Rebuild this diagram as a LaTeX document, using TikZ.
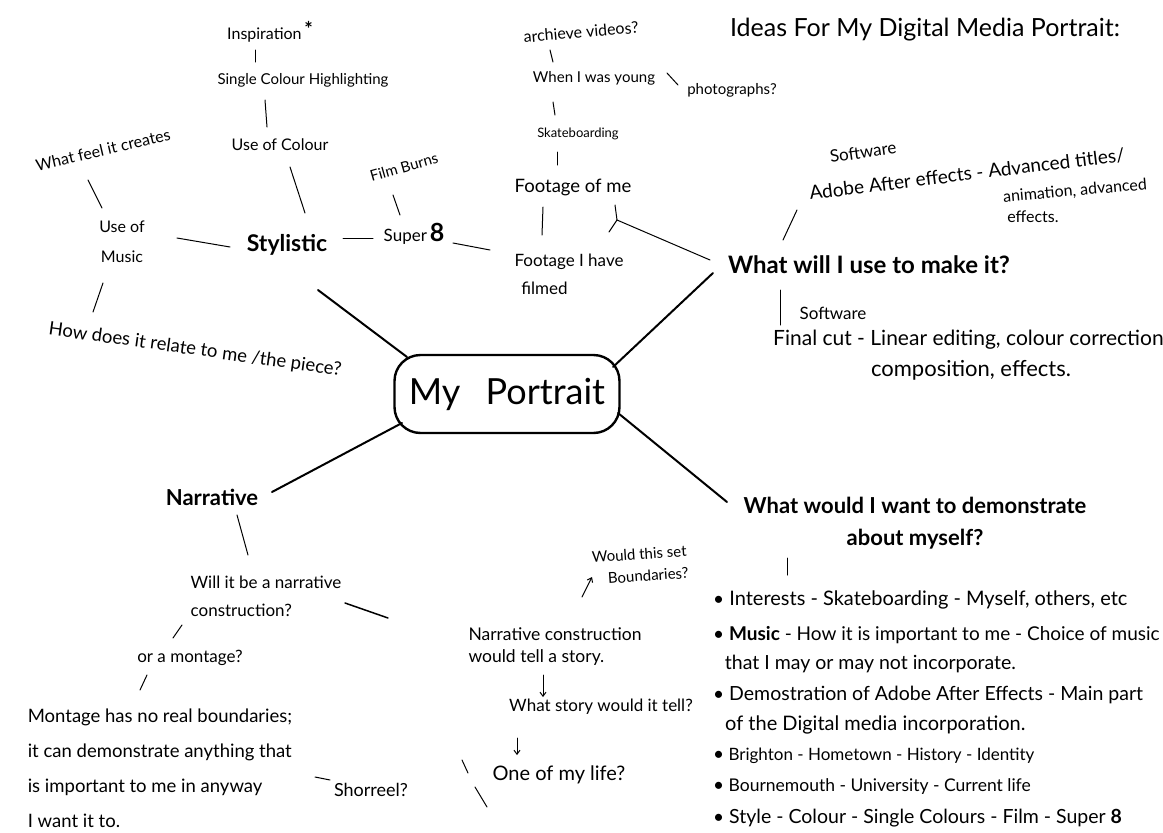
\documentclass[tikz,border=0pt]{standalone}
\usepackage{fontspec}
\setmainfont{Lato}
\usetikzlibrary{arrows.meta}
\newcommand{\dotmark}{{\fontsize{19}{20}\selectfont\textbullet}\ }

\begin{document}
\begin{tikzpicture}[
        x=1pt, y=-1pt,
        txt/.style={inner sep=1pt, font=\fontsize{15}{18}\selectfont},
        mid/.style={inner sep=1pt, font=\fontsize{17}{28}\selectfont, align=left},
        big/.style={inner sep=1pt, font=\fontsize{22}{32}\selectfont\bfseries, align=center},
        hub/.style={draw, rounded corners=26pt, line width=2.4pt, minimum width=225pt, minimum height=78pt, font=\fontsize{36}{40}\selectfont},
        twig/.style={line width=1pt, line cap=round},
        branch/.style={line width=2pt, line cap=round},
        tip/.style={twig, -{Straight Barb[length=4pt, width=6pt]}}
    ]
        \useasboundingbox (0,0) rectangle (1163,833);

        % Title and centre
        \node[inner sep=1pt, font=\fontsize{25}{29}\selectfont] (title) at (925,30) {Ideas For My Digital Media Portrait:};
        \node[hub] (me) at (507,394) {My\hspace{0.7em}Portrait};

        % Stylistic side
        \node[big, font=\fontsize{23}{28}\selectfont\bfseries] (styl) at (287,245) {Stylistic};
        \node[txt, font=\fontsize{16}{19}\selectfont] (colour) at (280,145) {Use of Colour};
        \node[txt] (single) at (303,80) {Single Colour Highlighting};
        \node[txt, font=\fontsize{16}{19}\selectfont] (inspir) at (270,32) {Inspiration\,\raisebox{3pt}{\fontsize{20}{20}\selectfont\bfseries *}};
        \node[txt, rotate=13, font=\fontsize{16}{19}\selectfont] (feel) at (103,150) {What feel it creates};
        \node[txt, align=center, font=\fontsize{16}{30}\selectfont] (music) at (122,242) {Use of\\Music};
        \node[txt, rotate=-8, font=\fontsize{18.5}{22}\selectfont] (relate) at (195,350) {How does it relate to me /the piece?};
        \node[txt, font=\fontsize{17}{20}\selectfont] (super) at (414,234) {Super\,{\fontsize{25}{25}\selectfont\bfseries 8}};
        \node[txt, rotate=16] (burns) at (404,167) {Film Burns};

        % Footage column
        \node[txt, align=left, font=\fontsize{17}{28}\selectfont] (filmed) at (569,274) {Footage I have\\\hspace{0.4em}filmed};
        \node[txt, font=\fontsize{18.5}{21}\selectfont] (footme) at (573,187) {Footage of me};
        \node[txt, font=\fontsize{13}{16}\selectfont] (skate) at (578,134) {Skateboarding};
        \node[txt] (young) at (594,78) {When I was young};
        \node[txt] (photos) at (732,90) {photographs?};
        \node[txt, rotate=5, font=\fontsize{16}{19}\selectfont] (archive) at (581,32) {archieve videos?};

        % What will I use
        \node[big, font=\fontsize{24}{28}\selectfont\bfseries] (wwu) at (869,265) {What will I use to make it?};
        \node[txt, rotate=8, font=\fontsize{17}{20}\selectfont] (soft1) at (863,152) {Software};
        \node[txt, rotate=7, font=\fontsize{19}{22}\selectfont] (adobe) at (967,174) {Adobe After effects - Advanced titles/};
        \node[txt, rotate=5, font=\fontsize{16}{19}\selectfont] (anim) at (1075,191) {animation, advanced};
        \node[txt, font=\fontsize{16}{19}\selectfont] (effects) at (1033,217) {effects.};
        \node[txt, font=\fontsize{17}{20}\selectfont] (soft2) at (833,313) {Software};
        \node[txt, anchor=west, font=\fontsize{21}{24}\selectfont] (final) at (772,340) {Final cut - Linear editing, colour correction};
        \node[txt, font=\fontsize{22}{25}\selectfont] (compo) at (971,370) {composition, effects.};

        % What would I want to demonstrate
        \node[big] (wwd) at (915,523) {What would I want to demonstrate\\about myself?};
        \foreach \y/\s/\t [count=\i] in {
            605/20/{\dotmark Interests - Skateboarding - Myself, others, etc},
            640/19/{\dotmark \textbf{Music} - How it is important to me - Choice of music},
            669/19.5/{\hspace{0.6em}that I may or may not incorporate.},
            700/19.5/{\dotmark Demostration of Adobe After Effects - Main part},
            730/20/{\hspace{0.6em}of the Digital media incorporation.},
            760/17/{\dotmark Brighton - Hometown - History - Identity},
            791/17.5/{\dotmark Bournemouth - University - Current life},
            823/19.5/{\dotmark Style - Colour - Single Colours - Film - Super \textbf{8}}}
            \node[txt, anchor=base west, font=\fontsize{\s}{20}\selectfont] (b\i) at (712,\y) {\t};

        % Narrative side
        \node[big] (narr) at (212,497) {Narrative};
        \node[mid, font=\fontsize{17}{28}\selectfont] (willit) at (266,596) {Will it be a narrative\\construction?};
        \node[mid] (montq) at (190,658) {or a montage?};
        \node[mid, font=\fontsize{18.5}{35}\selectfont] (montage) at (160,768) {Montage has no real boundaries;\\it can demonstrate anything that\\is important to me in anyway\\I want it to.};
        \node[mid, font=\fontsize{18}{21}\selectfont] (showreel) at (371,790) {Shorreel?};
        \node[mid, font=\fontsize{17.5}{22}\selectfont] (ncons) at (555,647) {Narrative construction\\would tell a story.};
        \node[txt, align=center, rotate=4, font=\fontsize{15}{22}\selectfont] (bound) at (640,565) {Would this set\\\hspace{1em}Boundaries?};
        \node[txt, font=\fontsize{17}{20}\selectfont] (story) at (601,707) {What story would it tell?};
        \node[txt, font=\fontsize{20}{23}\selectfont] (life) at (559,775) {One of my life?};

        % Main branches
        \draw[branch] ([shift={(-100,-37)}]me.center) -- ([shift={(31,45)}]styl.center);
        \draw[branch] ([shift={(106,-27)}]me.center) -- ([shift={(-156,8)}]wwu.center);
        \draw[branch] ([shift={(111,19)}]me.center) -- ([shift={(-188,-21)}]wwd.center);
        \draw[branch] ([shift={(-105,29)}]me.center) -- ([shift={(60,-5)}]narr.center);

        % Stylistic strokes
        \draw[twig] ([shift={(-15,18)}]inspir.center) -- ([shift={(-48,-18)}]single.center);
        \draw[twig] ([shift={(-38,20)}]single.center) -- ([shift={(-13,-18)}]colour.center);
        \draw[twig] ([shift={(10,22)}]colour.center) -- ([shift={(18,-32)}]styl.center);
        \draw[twig] ([shift={(-15,30)}]feel.center) -- ([shift={(-20,-34)}]music.center);
        \draw[twig] ([shift={(55,-4)}]music.center) -- ([shift={(-57,2)}]styl.center);
        \draw[twig] ([shift={(-19,41)}]music.center) -- ([shift={(-102,-38)}]relate.center);
        \draw[twig] ([shift={(56,-7)}]styl.center) -- ([shift={(-41,4)}]super.center);
        \draw[twig] ([shift={(-11,28)}]burns.center) -- ([shift={(-14,-19)}]super.center);
        \draw[twig] ([shift={(39,9)}]super.center) -- ([shift={(-79,-24)}]filmed.center);

        % Footage strokes
        \draw[twig] ([shift={(-30,20)}]footme.center) -- ([shift={(-27,-39)}]filmed.center);
        \draw[twig] ([shift={(-21,18)}]skate.center) -- ([shift={(-16,-22)}]footme.center);
        \draw[twig] ([shift={(-41,24)}]young.center) -- ([shift={(-23,-19)}]skate.center);
        \draw[twig] ([shift={(-31,18)}]archive.center) -- ([shift={(-41,-16)}]young.center);
        \draw[twig] ([shift={(73,-5)}]young.center) -- ([shift={(-54,-5)}]photos.center);
        \draw[twig] ([shift={(-159,-5)}]wwu.center) -- ([shift={(44,33)}]footme.center) coordinate (fork);
        \draw[twig] (fork) -- ([shift={(42,18)}]footme.center);
        \draw[twig] (fork) -- ([shift={(36,45)}]footme.center);

        % Tools strokes
        \draw[twig] ([shift={(-86,-25)}]wwu.center) -- ([shift={(-170,36)}]adobe.center);
        \draw[twig] ([shift={(-89,25)}]wwu.center) -- ([shift={(-53,12)}]soft2.center);
        \draw[twig] ([shift={(-128,35)}]wwd.center) -- ([shift={(75,-30)}]b1.base west);

        % Narrative strokes
        \draw[twig] ([shift={(25,18)}]narr.center) -- ([shift={(-18,-41)}]willit.center);
        \draw[line width=1.5pt, line cap=round] ([shift={(79,7)}]willit.center) -- ([shift={(-167,-29)}]ncons.center);
        \draw[twig] ([shift={(-84,29)}]willit.center) -- ([shift={(-17,-20)}]montq.center);
        \draw[twig] ([shift={(-43,17)}]montq.center) -- ([shift={(-20,-78)}]montage.center);
        \draw[twig] ([shift={(155,9)}]montage.center) -- ([shift={(-41,-10)}]showreel.center);
        \draw[tip] ([shift={(27,-50)}]ncons.center) -- ([shift={(-48,12)}]bound.center);
        \draw[tip] ([shift={(-12,28)}]ncons.center) -- ([shift={(-58,-10)}]story.center);
        \draw[tip] ([shift={(-84,31)}]story.center) -- ([shift={(-42,-20)}]life.center);
        \draw[twig] ([shift={(91,-30)}]showreel.center) -- ([shift={(-91,-2)}]life.center);
        \draw[twig] ([shift={(104,-3)}]showreel.center) -- ([shift={(-72,32)}]life.center);
    \end{tikzpicture}
\end{document}
